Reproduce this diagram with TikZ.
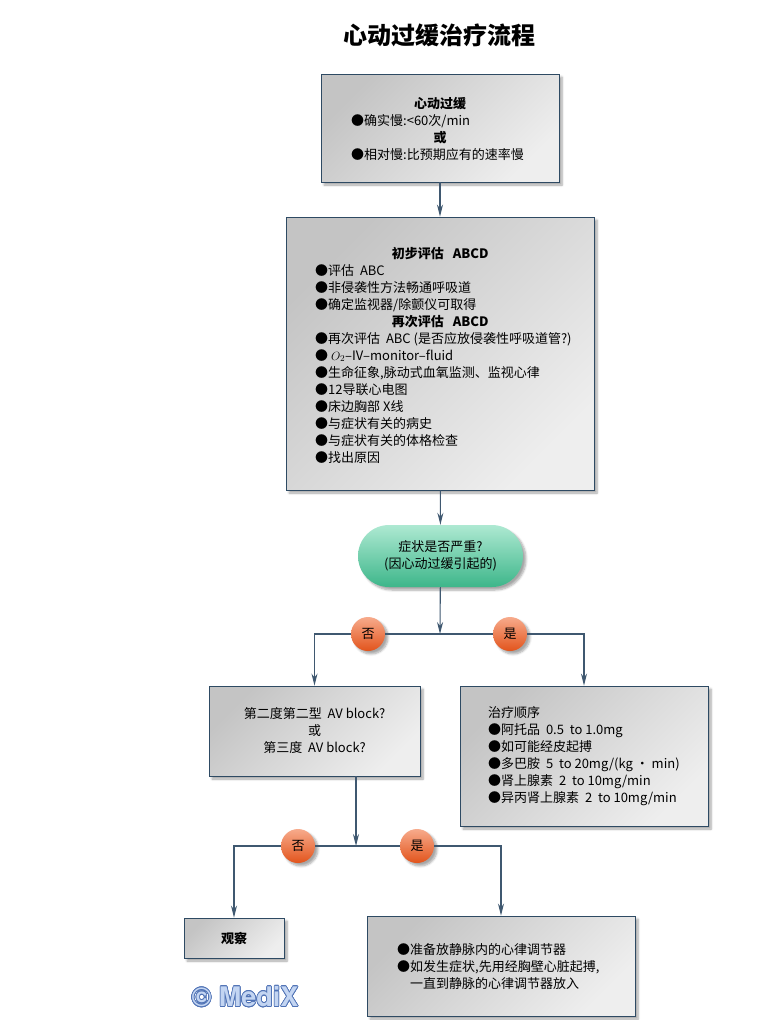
\documentclass[tikz,border=0pt]{standalone}
\usepackage{fontspec}
\setmainfont{Noto Sans CJK SC}
\newfontfamily\wmfont{TeX Gyre Heros}
\usepackage[copies]{contour}
\usetikzlibrary{arrows.meta,shadows.blur}
\definecolor{lineblue}{HTML}{3F5870}
\definecolor{boxedge}{HTML}{2E4A63}
\definecolor{boxdark}{HTML}{C4C4C4}
\definecolor{boxlight}{HTML}{EEEEEE}
\definecolor{greentop}{HTML}{AEE9D2}
\definecolor{greenbot}{HTML}{3DB68A}
\definecolor{tagtop}{HTML}{F7AB8C}
\definecolor{tagbot}{HTML}{E2541C}
\definecolor{wmfill}{HTML}{C3D5F2}
\definecolor{wmedge}{HTML}{4F72B5}
\contourlength{0.7pt}
\begin{document}
\begin{tikzpicture}[x=1pt,y=-1pt,
		shade/.style={blur shadow={shadow xshift=3pt,shadow yshift=-3pt,shadow blur steps=6,shadow opacity=35}},
		box/.style={shade,draw=boxedge,line width=0.9pt,top color=boxdark,bottom color=boxlight,shading angle=45,inner sep=0pt},
		txt/.style={font=\fontsize{13}{17}\selectfont,inner sep=0pt,align=left,anchor=west},
		tag/.style={shade,circle,minimum size=34pt,inner sep=0pt,top color=tagtop,bottom color=tagbot,font=\fontsize{13}{15}\selectfont},
		ln/.style={draw=lineblue,line width=1.1pt},
		arr/.style={ln,-{Stealth[length=12pt,width=6pt]}}]
	\useasboundingbox (0,0) rectangle (761,1020);
	\node[font=\fontsize{24}{28}\selectfont\bfseries] (title) at (439,35) {心动过缓治疗流程};

	\node[box,minimum width=238pt,minimum height=108pt] (brady) at (440,128) {};
	\node[txt] (bradytxt) at (351,129) {\makebox[178pt]{\bfseries 心动过缓}\\●确实慢:<60次/min\\\makebox[178pt]{\bfseries 或}\\●相对慢:比预期应有的速率慢};

	\node[box,minimum width=308pt,minimum height=273pt] (abcd) at (440,353.5) {};
	\node[txt] (abcdtxt) at (315,355) {\makebox[250pt]{\bfseries 初步评估~~~ABCD}\\
		●评估~~ABC\\
		●非侵袭性方法畅通呼吸道\\
		●确定监视器/除颤仪可取得\\
		\makebox[250pt]{\bfseries 再次评估~~~ABCD}\\
		●再次评估~~ABC (是否应放侵袭性呼吸道管?)\\
		● $O_2$--IV--monitor--fluid\\
		●生命征象,脉动式血氧监测、监视心律\\
		●12导联心电图\\
		●床边胸部~X线\\
		●与症状有关的病史\\
		●与症状有关的体格检查\\
		●找出原因};

	\node[shade,rounded corners=31pt,minimum width=165pt,minimum height=62pt,top color=greentop,bottom color=greenbot,txt,align=center,anchor=center] (severe) at (440.5,556) {症状是否严重?\\(因心动过缓引起的)};

	\coordinate (j1) at (440,634);
	\node[tag] (no1) at (368,634) {否};
	\node[tag] (yes1) at (510,634) {是};

	\node[box,minimum width=211pt,minimum height=90pt,txt,align=center,anchor=center] (block) at (314.5,731) {第二度第二型~~AV block?\\或\\第三度~~AV block?};
	\node[box,minimum width=248pt,minimum height=140pt] (treat) at (584,756) {};
	\node[txt] (treattxt) at (488,756.5) {治疗顺序\\
		●阿托品~~0.5~~to~1.0mg\\
		●如可能经皮起搏\\
		●多巴胺~~5~~to~20mg/(kg • min)\\
		●肾上腺素~~2~~to~10mg/min\\
		●异丙肾上腺素~~2~~to~10mg/min};

	\coordinate (j2) at (356,846);
	\node[tag] (no2) at (298,846) {否};
	\node[tag] (yes2) at (417,846) {是};

	\node[box,minimum width=100pt,minimum height=40pt,font=\fontsize{13}{15}\selectfont\bfseries] (watch) at (234,938) {观察};
	\node[box,minimum width=268pt,minimum height=100pt] (pacer) at (501,966) {};
	\node[txt] (pacertxt) at (397,967) {●准备放静脉内的心律调节器\\
		●如发生症状,先用经胸壁心脏起搏,\\
		\phantom{●}一直到静脉的心律调节器放入};

	\node[font=\wmfont\bfseries\fontsize{27}{30}\selectfont,text=wmfill] (mark) at (245,997) {\contour{wmedge}{© MediX}};

	\draw[arr] (brady) -- (abcd);
	\draw[arr] (abcd) -- (severe);
	\draw[arr] (severe) -- (j1);
	\draw[ln] (j1) -- (no1) (j1) -- (yes1);
	\draw[arr] (no1) -| (block);
	\draw[arr] (yes1) -| (treat);
	\draw[arr] (block.south -| j2) -- (j2);
	\draw[ln] (j2) -- (no2) (j2) -- (yes2);
	\draw[arr] (no2) -| (watch);
	\draw[arr] (yes2) -| (pacer);
\end{tikzpicture}
\end{document}
